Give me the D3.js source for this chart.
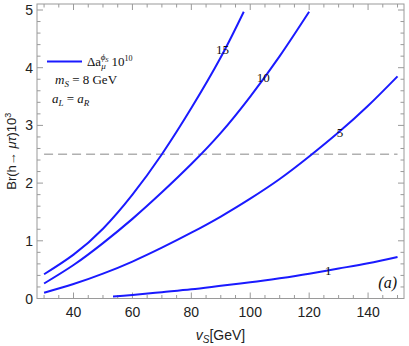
<!DOCTYPE html>
<html>
<head>
<meta charset="utf-8">
<script src="https://cdn.jsdelivr.net/npm/d3@7"></script>
<style>
body { margin: 0; background: #fff; }
svg { display: block; }
</style>
</head>
<body>
<div id="chart"></div>
<script>
// curves: Br(h->mu tau)*10^3 vs v_S, one per Delta a_mu value
var vS15 = [30, 40, 50, 60, 70, 80, 90, 97.8];
var br15 = [0.42, 0.76, 1.21, 1.80, 2.50, 3.30, 4.18, 4.97];

var vS10 = [30, 40, 50, 60, 70, 80, 90, 100, 110, 120];
var br10 = [0.26, 0.58, 0.96, 1.38, 1.84, 2.33, 2.87, 3.50, 4.20, 4.97];

var vS5 = [30, 40, 50, 60, 70, 80, 90, 100, 110, 120, 130, 140, 150];
var br5 = [0.10, 0.25, 0.43, 0.64, 0.88, 1.14, 1.42, 1.73, 2.07, 2.46, 2.88, 3.34, 3.85];

var vS1 = [53.4, 60, 70, 80, 90, 100, 110, 120, 130, 140, 150];
var br1 = [0.035, 0.06, 0.11, 0.16, 0.22, 0.28, 0.35, 0.43, 0.52, 0.61, 0.72];

var curveNames = ["15", "10", "5", "1"];
var labelV = [90.6, 104.4, 130.5, 126.5];
var labelBr = [4.31, 3.83, 2.87, 0.49];

var limitBr = 2.5;
var xTicks = [40, 60, 80, 100, 120, 140];
var yTicks = [0, 1, 2, 3, 4, 5];

var svgWidth = 409;
var svgHeight = 346;
var frame = {left: 37, right: 404, top: 4, bottom: 298.5};

var svg = d3.select("#chart")
  .append("svg")
  .attr("width", svgWidth)
  .attr("height", svgHeight);

var x = d3.scaleLinear().domain([27.6, 152.2]).range([frame.left, frame.right]);
var y = d3.scaleLinear().domain([0, 5.104]).range([frame.bottom, frame.top]);

var frameColor = "#9a9a9a";
var sans = "'Liberation Sans', Arial, sans-serif";
var serif = "'Liberation Serif', 'Times New Roman', serif";

// frame
svg.append("rect")
  .attr("x", frame.left)
  .attr("y", frame.top)
  .attr("width", frame.right - frame.left)
  .attr("height", frame.bottom - frame.top)
  .attr("fill", "none")
  .attr("stroke", frameColor)
  .attr("stroke-width", 1);

// ticks (inward, on all four sides)
var xMinor = d3.range(30, 152, 5);
var yMinor = d3.range(0, 5.1, 0.2);
var ticks = svg.append("g").attr("stroke", frameColor).attr("stroke-width", 1);

xMinor.forEach(function(v) {
  var len = (v % 20 === 0) ? 6 : 3.5;
  ticks.append("line").attr("x1", x(v)).attr("x2", x(v)).attr("y1", frame.bottom).attr("y2", frame.bottom - len);
  ticks.append("line").attr("x1", x(v)).attr("x2", x(v)).attr("y1", frame.top).attr("y2", frame.top + len);
});
yMinor.forEach(function(v) {
  var major = Math.abs(v - Math.round(v)) < 1e-6;
  var len = major ? 6 : 3.5;
  ticks.append("line").attr("y1", y(v)).attr("y2", y(v)).attr("x1", frame.left).attr("x2", frame.left + len);
  ticks.append("line").attr("y1", y(v)).attr("y2", y(v)).attr("x1", frame.right).attr("x2", frame.right - len);
});

// tick labels
svg.append("g").selectAll("text")
  .data(xTicks)
  .enter()
  .append("text")
  .attr("x", d => x(d))
  .attr("y", 317)
  .attr("text-anchor", "middle")
  .attr("font-family", sans)
  .attr("font-size", 14)
  .attr("fill", "#222")
  .text(d => d);

svg.append("g").selectAll("text")
  .data(yTicks)
  .enter()
  .append("text")
  .attr("x", 33)
  .attr("y", d => y(d) + 5)
  .attr("text-anchor", "end")
  .attr("font-family", sans)
  .attr("font-size", 14)
  .attr("fill", "#222")
  .text(d => d);

// dashed limit line
svg.append("line")
  .attr("x1", x(30))
  .attr("x2", x(150))
  .attr("y1", y(limitBr))
  .attr("y2", y(limitBr))
  .attr("stroke", "#b0b0b0")
  .attr("stroke-width", 1.6)
  .attr("stroke-dasharray", "9,5");

// curves
var line = d3.line()
  .x(d => x(d[0]))
  .y(d => y(d[1]))
  .curve(d3.curveNatural);

var series = [[vS15, br15], [vS10, br10], [vS5, br5], [vS1, br1]];
series.forEach(function(s) {
  svg.append("path")
    .datum(d3.zip(s[0], s[1]))
    .attr("fill", "none")
    .attr("stroke", "#1a1aff")
    .attr("stroke-width", 2)
    .attr("d", line);
});

// contour labels
svg.append("g").selectAll("text")
  .data(curveNames)
  .enter()
  .append("text")
  .attr("x", (d, i) => x(labelV[i]))
  .attr("y", (d, i) => y(labelBr[i]) + 4.5)
  .attr("text-anchor", "middle")
  .attr("font-family", serif)
  .attr("font-size", 13)
  .attr("fill", "#111")
  .text(d => d);

// legend
svg.append("line")
  .attr("x1", 47).attr("x2", 82)
  .attr("y1", 61.5).attr("y2", 61.5)
  .attr("stroke", "#1a1aff")
  .attr("stroke-width", 2);

var leg = svg.append("text")
  .attr("x", 87)
  .attr("y", 66)
  .attr("font-family", serif)
  .attr("font-size", 13)
  .attr("fill", "#111");
leg.append("tspan").text("Δa");
leg.append("tspan").attr("font-size", 9).attr("font-style", "italic").attr("dy", 3).text("μ");
leg.append("tspan").attr("font-size", 9).attr("font-style", "italic").attr("dx", -5).attr("dy", -9).text("ϕ");
leg.append("tspan").attr("font-size", 6.5).attr("font-style", "italic").attr("dy", 2).text("S");
leg.append("tspan").attr("dy", 4).attr("dx", 3).text("10");
leg.append("tspan").attr("font-size", 8).attr("dy", -5).text("10");

var ms = svg.append("text")
  .attr("x", 55)
  .attr("y", 84)
  .attr("font-family", serif)
  .attr("font-size", 13)
  .attr("fill", "#111");
ms.append("tspan").attr("font-style", "italic").text("m");
ms.append("tspan").attr("font-style", "italic").attr("font-size", 9).attr("dy", 3).text("S");
ms.append("tspan").attr("dy", -3).text(" = 8 GeV");

var al = svg.append("text")
  .attr("x", 52)
  .attr("y", 103)
  .attr("font-family", serif)
  .attr("font-size", 13)
  .attr("fill", "#111");
al.append("tspan").attr("font-style", "italic").text("a");
al.append("tspan").attr("font-style", "italic").attr("font-size", 9).attr("dy", 3).text("L");
al.append("tspan").attr("dy", -3).text(" = ");
al.append("tspan").attr("font-style", "italic").text("a");
al.append("tspan").attr("font-style", "italic").attr("font-size", 9).attr("dy", 3).text("R");

// panel tag
svg.append("text")
  .attr("x", 397)
  .attr("y", 288)
  .attr("text-anchor", "end")
  .attr("font-family", serif)
  .attr("font-style", "italic")
  .attr("font-size", 16)
  .attr("fill", "#111")
  .text("(a)");

// axis titles
var xt = svg.append("text")
  .attr("x", (frame.left + frame.right) / 2)
  .attr("y", 340)
  .attr("text-anchor", "middle")
  .attr("font-family", sans)
  .attr("font-size", 14)
  .attr("fill", "#222");
xt.append("tspan").attr("font-style", "italic").text("v");
xt.append("tspan").attr("font-style", "italic").attr("font-size", 10).attr("dy", 3).text("S");
xt.append("tspan").attr("dy", -3).text("[GeV]");

var yt = svg.append("text")
  .attr("transform", "translate(16," + ((frame.top + frame.bottom) / 2) + ") rotate(-90)")
  .attr("text-anchor", "middle")
  .attr("font-family", sans)
  .attr("font-size", 13)
  .attr("fill", "#222");
yt.append("tspan").text("Br(h→ ");
yt.append("tspan").attr("font-style", "italic").text("μτ");
yt.append("tspan").text(")10");
yt.append("tspan").attr("font-size", 9).attr("dy", -5).text("3");
</script>
</body>
</html>
